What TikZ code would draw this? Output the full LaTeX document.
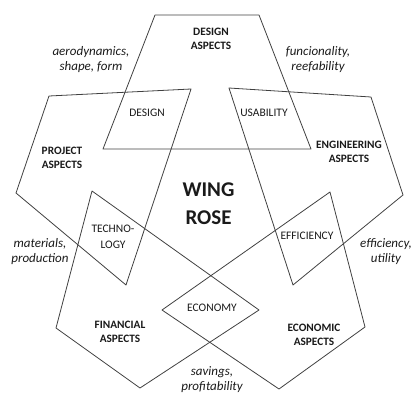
\documentclass[tikz,border=0pt]{standalone}
\usepackage{fontspec}
\setmainfont{Carlito}
\usepackage{tikz}
\definecolor{edge}{HTML}{404040}
\definecolor{ink}{HTML}{1A1A1A}
\tikzstyle{petal} = [draw=edge,line width=0.8pt,line join=round]
\tikzstyle{aspect} = [align=center,text=ink,inner sep=0pt,font=\fontsize{11.3}{14}\selectfont\bfseries]
\tikzstyle{overlap} = [align=center,text=ink,inner sep=0pt,font=\fontsize{11.5}{16}\selectfont]
\tikzstyle{keyword} = [align=center,text=ink,inner sep=0pt,font=\fontsize{13}{15}\selectfont\itshape]

\begin{document}
\begin{tikzpicture}[x=1pt,y=-1pt]
            \useasboundingbox (0,0) rectangle (413,394);
            % petals
            \draw[petal] (155,15) -- (259,15) -- (311,149) -- (103,149) -- cycle;
            \draw[petal] (49,96) -- (191,89) -- (126,285) -- (16,193) -- cycle;
            \draw[petal] (229,88) -- (371,97) -- (403,195) -- (293,285) -- cycle;
            \draw[petal] (92,191) -- (259,310) -- (140,388) -- (56,328) -- cycle;
            \draw[petal] (330,192) -- (162,310) -- (279,389) -- (365,327) -- cycle;
            % aspects
            \node[aspect] (design) at (211,39) {DESIGN\\ASPECTS};
            \node[aspect] (project) at (62,157.5) {PROJECT\\ASPECTS};
            \node[aspect] (engineering) at (349,151.5) {ENGINEERING\\ASPECTS};
            \node[aspect] (financial) at (120,332) {FINANCIAL\\ASPECTS};
            \node[aspect] (economic) at (314,335) {ECONOMIC\\ASPECTS};
            % overlaps
            \node[overlap] (designov) at (147,113) {DESIGN};
            \node[overlap] (usability) at (264,113) {USABILITY};
            \node[overlap] (technology) at (113,237) {TECHNO-\\LOGY};
            \node[overlap] (efficiency) at (307,236) {EFFICIENCY};
            \node[overlap] (economy) at (212,308) {ECONOMY};
            % keywords
            \node[keyword] (aero) at (91,59.5) {aerodynamics,\\shape, form};
            \node[keyword] (func) at (318,59.5) {funcionality,\\reefability};
            \node[keyword] (mat) at (40,252) {materials,\\production};
            \node[keyword] (eff) at (386,252) {efficiency,\\utility};
            \node[keyword] (sav) at (212,380) {savings,\\profitability};
            % title
            \node[align=center,text=ink,inner sep=0pt,font=\fontsize{21}{28}\selectfont\bfseries] (title) at (208.5,204) {WING\\ROSE};
        \end{tikzpicture}
\end{document}
